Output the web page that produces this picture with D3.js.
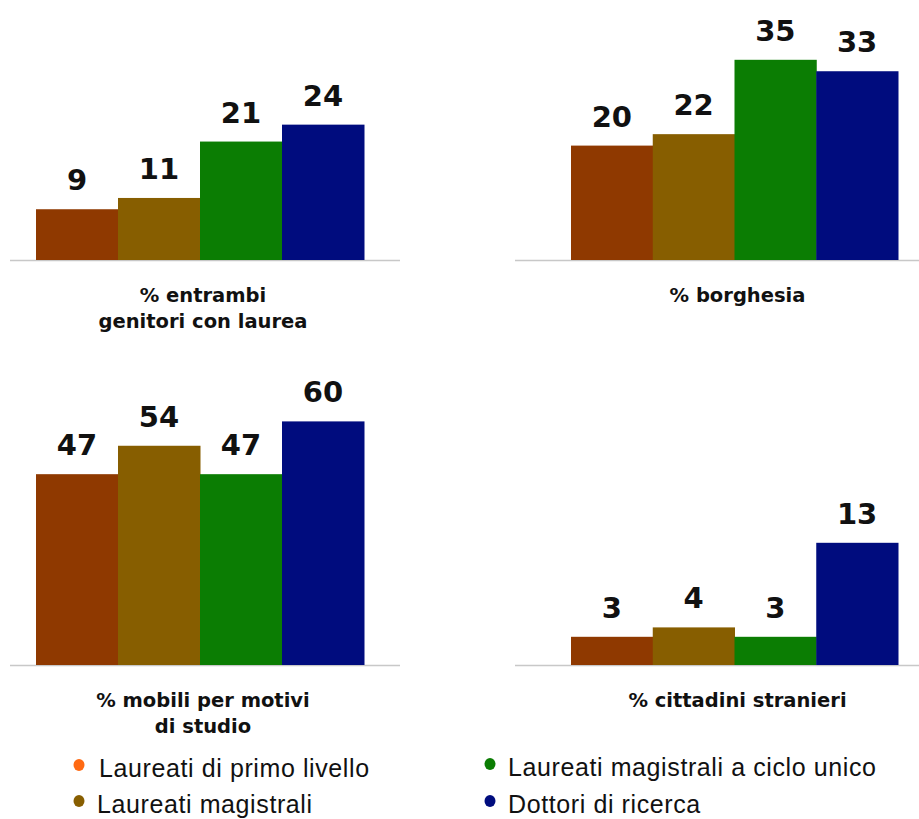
<!DOCTYPE html>
<html>
<head>
<meta charset="utf-8">
<script src="https://cdn.jsdelivr.net/npm/d3@7"></script>
<style>
  body { margin: 0; background: #fff; }
  svg { display: block; }
</style>
</head>
<body>
<script>
// groups (same order in every panel)
var groups = ["Laureati di primo livello", "Laureati magistrali",
              "Laureati magistrali a ciclo unico", "Dottori di ricerca"];
var barColors = ["#8f3900", "#875e00", "#0b7d03", "#000c7e"];
var legendColors = ["#ff6a13", "#875e00", "#0b7d03", "#000c7e"];

// values per panel
var entrambiLaurea = [9, 11, 21, 24];
var borghesia = [20, 22, 35, 33];
var mobiliStudio = [47, 54, 47, 60];
var cittadiniStranieri = [3, 4, 3, 13];

var panels = [
  {values: entrambiLaurea, title: ["% entrambi", "genitori con laurea"],
   left: 10, right: 400, x0: 36, x1: 364, base: 260, ppu: 5.64},
  {values: borghesia, title: ["% borghesia"],
   left: 515, right: 919, x0: 571, x1: 898, base: 260, ppu: 5.72},
  {values: mobiliStudio, title: ["% mobili per motivi", "di studio"],
   left: 10, right: 400, x0: 36, x1: 364, base: 665, ppu: 4.06},
  {values: cittadiniStranieri, title: ["% cittadini stranieri"],
   left: 515, right: 919, x0: 571, x1: 898, base: 665, ppu: 9.4}
];

var svg = d3.select("body").append("svg")
    .attr("width", 919)
    .attr("height", 819);

panels.forEach(function(p) {
  var x = d3.scaleBand()
      .domain(groups)
      .range([p.x0, p.x1])
      .padding(0);
  var maxV = d3.max(p.values);
  var y = d3.scaleLinear()
      .domain([0, maxV])
      .range([p.base, p.base - maxV * p.ppu]);

  var g = svg.append("g");

  // baseline
  g.append("line")
      .attr("x1", p.left).attr("x2", p.right)
      .attr("y1", p.base + 0.5).attr("y2", p.base + 0.5)
      .attr("stroke", "#c8c8c8")
      .attr("stroke-width", 1.5);

  g.selectAll("rect")
      .data(p.values)
      .enter().append("rect")
      .attr("x", function(d, i) { return x(groups[i]); })
      .attr("width", x.bandwidth() + 0.5)
      .attr("y", function(d) { return y(d); })
      .attr("height", function(d) { return p.base - y(d); })
      .attr("fill", function(d, i) { return barColors[i]; });

  g.selectAll("text.val")
      .data(p.values)
      .enter().append("text")
      .attr("class", "val")
      .attr("x", function(d, i) { return x(groups[i]) + x.bandwidth() / 2; })
      .attr("y", function(d) { return y(d) - 19; })
      .attr("text-anchor", "middle")
      .style("font-family", "DejaVu Sans")
      .style("font-weight", "bold")
      .style("font-size", "29px")
      .style("fill", "#111")
      .text(function(d) { return d; });

  // panel title under the axis
  g.selectAll("text.title")
      .data(p.title)
      .enter().append("text")
      .attr("class", "title")
      .attr("x", (p.x0 + p.x1) / 2 + 3)
      .attr("y", function(d, i) { return p.base + 42 + i * 26; })
      .attr("text-anchor", "middle")
      .style("font-family", "DejaVu Sans")
      .style("font-weight", "bold")
      .style("font-size", "19.5px")
      .style("fill", "#111")
      .text(function(d) { return d; });
});

// legend, two columns
var legendPos = [
  {dx: 79, tx: 99, y: 777},
  {dx: 79, tx: 97, y: 813},
  {dx: 490, tx: 508, y: 776},
  {dx: 490, tx: 508, y: 813}
];
var legend = svg.append("g");
groups.forEach(function(name, i) {
  var lp = legendPos[i];
  legend.append("ellipse")
      .attr("cx", lp.dx).attr("cy", lp.y - 12)
      .attr("rx", 5.5).attr("ry", 6)
      .attr("fill", legendColors[i]);
  legend.append("text")
      .attr("x", lp.tx)
      .attr("y", lp.y)
      .style("font-family", "Liberation Sans Narrow, sans-serif")
      .style("font-size", "25px")
      .style("letter-spacing", "0.6px")
      .style("fill", "#111")
      .text(name);
});
</script>
</body>
</html>
